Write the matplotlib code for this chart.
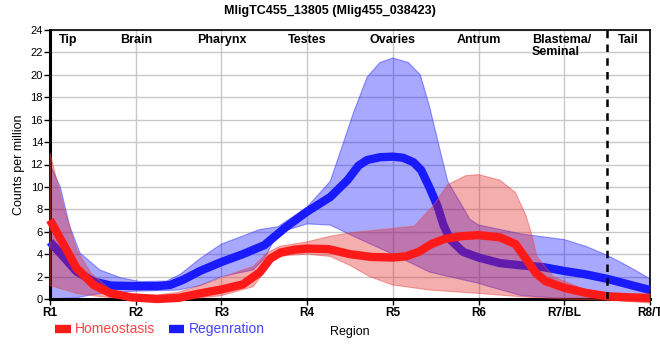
import matplotlib
matplotlib.use('Agg')
import matplotlib.pyplot as plt
from matplotlib.lines import Line2D

plt.rcParams['font.family'] = ['Liberation Sans', 'DejaVu Sans']

TITLE = "MligTC455_13805 (Mlig455_038423)"
TICK_LABELS = ["R1", "R2", "R3", "R4", "R5", "R6", "R7/BL", "R8/T"]
REGION_NAMES = ["Tip", "Brain", "Pharynx", "Testes", "Ovaries", "Antrum", "Blastema/\nSeminal", "Tail"]
REGION_X = [1.1, 2.0, 3.0, 4.0, 5.0, 6.0, 6.62, 7.63]

# Regeneration (blue) - mean line
reg_x = [1.0, 1.17, 1.31, 1.51, 1.71, 2.0, 2.25, 2.4, 2.55, 2.75, 3.0, 3.25, 3.5, 3.75,
         4.0, 4.27, 4.47, 4.6, 4.7, 4.85, 5.0, 5.12, 5.24, 5.33, 5.43, 5.52, 5.59, 5.67,
         5.82, 6.0, 6.25, 6.5, 6.75, 7.0, 7.25, 7.5, 7.75, 8.0]
reg_mean = [5.1, 3.65, 2.45, 1.55, 1.2, 1.15, 1.15, 1.25, 1.7, 2.5, 3.3, 4.0, 4.8, 6.4,
            7.8, 9.1, 10.6, 11.9, 12.4, 12.65, 12.7, 12.6, 12.2, 11.5, 9.9, 8.3, 6.6, 5.3,
            4.2, 3.7, 3.2, 3.0, 2.85, 2.5, 2.2, 1.8, 1.3, 0.8]

reg_hi_x = [1.0, 1.12, 1.23, 1.35, 1.58, 1.82, 2.05, 2.36, 2.52, 2.75, 3.0, 3.45, 3.66,
            4.0, 4.27, 4.47, 4.54, 4.7, 4.85, 5.0, 5.18, 5.32, 5.43, 5.55, 5.64, 5.9,
            6.0, 6.5, 7.0, 7.25, 7.5, 7.75, 8.0]
reg_hi = [12.0, 10.0, 6.5, 4.1, 2.6, 1.9, 1.55, 1.6, 2.2, 3.6, 4.9, 6.2, 6.45,
          8.2, 10.5, 15.0, 16.6, 19.8, 21.1, 21.5, 21.1, 20.0, 17.1, 13.3, 10.5, 7.1,
          6.6, 5.8, 5.3, 4.7, 3.9, 2.9, 1.8]

reg_lo_x = [1.0, 1.3, 1.5, 1.75, 2.0, 2.5, 2.75, 3.0, 3.37, 3.5, 3.66, 4.0, 4.27, 4.54,
            5.0, 5.43, 6.0, 6.13, 6.5, 6.9, 7.5, 8.0]
reg_lo = [0.0, 0.1, 0.4, 0.6, 0.7, 0.8, 1.2, 2.0, 2.6, 3.6, 5.9, 6.7, 6.6, 5.6,
          4.0, 2.4, 1.4, 1.1, 0.3, 0.1, 0.0, 0.0]

# Homeostasis (red)
hom_x = [1.0, 1.17, 1.31, 1.51, 1.71, 1.95, 2.25, 2.5, 2.75, 3.0, 3.25, 3.45, 3.57, 3.69,
         3.85, 4.0, 4.25, 4.5, 4.75, 5.0, 5.15, 5.3, 5.45, 5.6, 5.8, 6.0, 6.25, 6.43,
         6.57, 6.67, 6.78, 7.0, 7.25, 7.5, 7.75, 8.0]
hom_mean = [7.05, 4.7, 2.75, 1.25, 0.5, 0.15, 0.0, 0.1, 0.5, 0.85, 1.3, 2.4, 3.6, 4.15,
            4.4, 4.5, 4.45, 4.0, 3.75, 3.7, 3.8, 4.2, 4.9, 5.35, 5.6, 5.7, 5.5, 4.9,
            3.4, 2.3, 1.6, 1.0, 0.55, 0.25, 0.15, 0.1]

hom_hi_x = [1.0, 1.16, 1.31, 1.48, 1.71, 1.95, 2.25, 2.5, 2.75, 3.0, 3.25, 3.37, 3.53, 3.68,
            4.0, 4.27, 4.5, 5.0, 5.25, 5.48, 5.64, 5.85, 6.0, 6.25, 6.43, 6.55, 6.63,
            6.68, 6.87, 7.25, 7.55, 7.8, 8.0]
hom_hi = [13.0, 8.2, 4.4, 2.3, 0.8, 0.4, 0.35, 0.6, 1.2, 1.9, 2.6, 2.9, 4.1, 4.7,
          5.1, 5.6, 5.9, 6.3, 6.5, 8.4, 10.2, 11.0, 11.1, 10.6, 9.5, 7.5, 5.5,
          3.8, 2.0, 0.8, 0.2, 0.0, 0.0]

hom_lo_x = [1.0, 1.31, 1.6, 1.9, 2.5, 2.75, 3.0, 3.37, 3.5, 3.6, 3.77, 4.0, 4.27, 4.5,
            4.73, 5.0, 5.43, 6.0, 6.5, 7.0, 7.5, 8.0]
hom_lo = [1.2, 0.5, 0.2, 0.0, 0.0, 0.1, 0.3, 1.1, 2.4, 3.6, 3.9, 4.0, 3.8, 3.0,
          2.0, 1.25, 0.8, 0.5, 0.2, 0.0, -0.1, -0.35]

RED = "#ff1a1a"
BLUE = "#1a1aff"

fig = plt.figure(figsize=(6.6, 3.6), dpi=100)
ax = fig.add_axes([50 / 660, 1 - 299 / 360, 600 / 660, 269 / 360])

# bands: blue first, red on top so the overlap turns purple
ax.fill(reg_hi_x + reg_lo_x[::-1], reg_hi + reg_lo[::-1],
        facecolor=(0, 0, 1, 0.34), edgecolor=(0.2, 0.2, 1, 0.5), linewidth=0.8,
        zorder=2, clip_on=False)
ax.plot(reg_x, reg_mean, color=BLUE, linewidth=6, solid_capstyle='butt',
        solid_joinstyle='round', zorder=3, clip_on=False)
ax.fill(hom_hi_x + hom_lo_x[::-1], hom_hi + hom_lo[::-1],
        facecolor=(0.9, 0.12, 0.12, 0.36), edgecolor=(0.9, 0.3, 0.3, 0.5), linewidth=0.8,
        zorder=4, clip_on=False)
ax.plot(hom_x, hom_mean, color=RED, linewidth=6, solid_capstyle='butt',
        solid_joinstyle='round', zorder=5, clip_on=False)

ax.axvline(7.5, color='black', linestyle=(0, (3, 2.5)), linewidth=1.8, zorder=6)

for i, (name, xr) in enumerate(zip(REGION_NAMES, REGION_X)):
    ha = 'left' if (i == 0 or i >= 6) else 'center'
    ax.text(xr, 23.6, name, ha=ha, va='top', fontsize=9, fontweight='bold',
            linespacing=1.0, zorder=7)

ax.set_xlim(1, 8)
ax.set_ylim(0, 24)
ax.set_xticks(range(1, 9))
ax.set_xticklabels(TICK_LABELS, fontsize=8.5, fontweight='bold')
ax.set_yticks(range(0, 25, 2))
ax.tick_params(axis='y', labelsize=8, length=4, width=1, pad=1)
ax.tick_params(axis='x', length=4, width=1, pad=2)
ax.grid(True, color='#c8c8c8', linewidth=1)
ax.set_axisbelow(True)

for side in ['left', 'bottom']:
    ax.spines[side].set_linewidth(2.2)
for side in ['top', 'right']:
    ax.spines[side].set_linewidth(1.2)

ax.set_ylabel("Counts per million", fontsize=9, labelpad=4)
ax.set_xlabel("Region", fontsize=9, labelpad=5)

handles = [Line2D([], [], color=RED, linewidth=6, solid_capstyle='butt'),
           Line2D([], [], color=BLUE, linewidth=6, solid_capstyle='butt')]
leg = fig.legend(handles, ["Homeostasis", "Regenration"], loc='center left',
                 bbox_to_anchor=(0.065, 0.085), ncol=2, frameon=False,
                 fontsize=10, handlelength=1.1, handletextpad=0.3, columnspacing=1.0)
leg.get_texts()[0].set_color("#ff4444")
leg.get_texts()[1].set_color("#4444ff")

fig.suptitle(TITLE, x=0.5, y=0.985, fontsize=9, fontweight='bold')

fig.savefig("out.png", dpi=100)
